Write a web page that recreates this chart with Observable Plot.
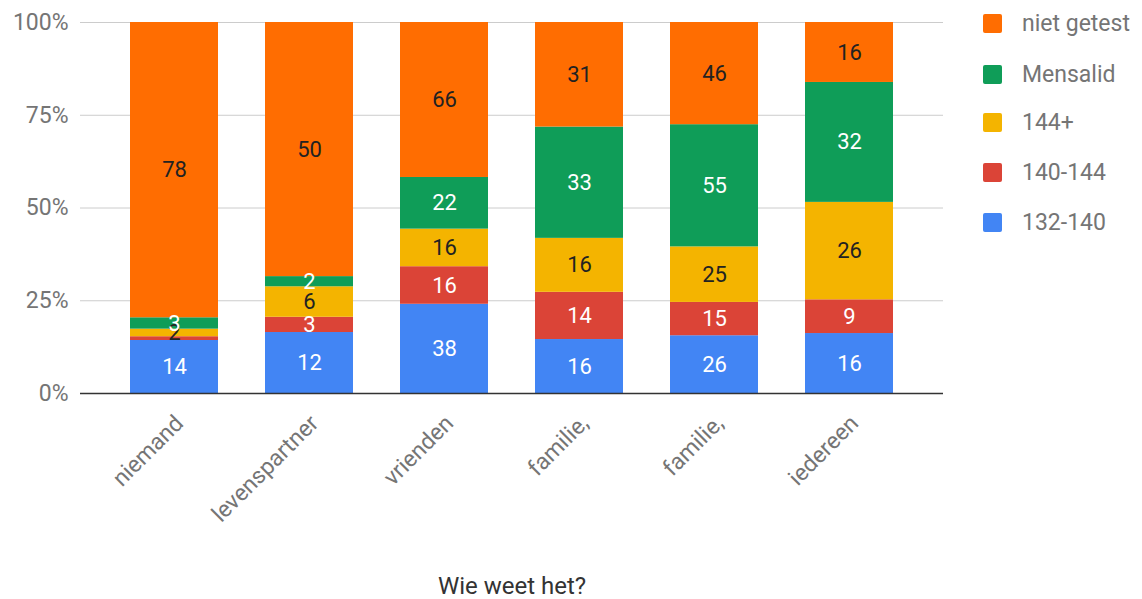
<!DOCTYPE html>
<html>
<head>
<meta charset="utf-8">
<script src="https://cdn.jsdelivr.net/npm/d3@7"></script>
<script src="https://cdn.jsdelivr.net/npm/@observablehq/plot@0.6"></script>
<style>
  html, body { margin: 0; padding: 0; background: #fff; }
  #wrap { position: relative; width: 1142px; height: 599px; font-family: Roboto, sans-serif; }
  #legend { position: absolute; left: 983px; top: 0; }
  .item { position: absolute; left: 0; display: flex; align-items: center; white-space: nowrap; }
  .sw { width: 19px; height: 19px; border-radius: 2px; margin-right: 20px; }
  .lab { font-size: 23px; color: #757575; }
</style>
</head>
<body>
<div id="wrap"><div id="legend"></div></div>
<script>
const categories = ["niemand", "levenspartner", "vrienden", "familie,", "familie,", "iedereen"];
const seriesNames = ["132-140", "140-144", "144+", "Mensalid", "niet getest"];
const seriesColors = ["#4285F4", "#DB4437", "#F4B400", "#0F9D58", "#FF6D01"];
const labelColors = ["#fff", "#fff", "#222", "#fff", "#222"];
const v132_140 = [14, 12, 38, 16, 26, 16];
const v140_144 = [1, 3, 16, 14, 15, 9];
const v144plus = [2, 6, 16, 16, 25, 26];
const vMensalid = [3, 2, 22, 33, 55, 32];
const vNietGetest = [78, 50, 66, 31, 46, 16];
const yTicks = [0, 0.25, 0.5, 0.75, 1];
const xTitle = "Wie weet het?";

const seriesValues = [v132_140, v140_144, v144plus, vMensalid, vNietGetest];
const data = [];
seriesNames.forEach((s, si) => {
  categories.forEach((c, ci) => {
    data.push({key: ci, series: s, value: seriesValues[si][ci], lc: labelColors[si]});
  });
});

const stackOpts = {offset: "normalize", order: seriesNames};

const chart = Plot.plot({
  width: 1142,
  height: 599,
  marginLeft: 80,
  marginRight: 199,
  marginTop: 22,
  marginBottom: 206,
  style: {fontFamily: "Roboto, sans-serif", fontSize: "23px", background: "#fff"},
  x: {type: "band", domain: categories.map((c, i) => i), padding: 0.35},
  y: {domain: [0, 1]},
  color: {domain: seriesNames, range: seriesColors},
  marks: [
    Plot.gridY(yTicks.slice(1), {stroke: "#cccccc", strokeOpacity: 1}),
    Plot.barY(data, Plot.stackY(stackOpts, {x: "key", y: "value", fill: "series"})),
    Plot.text(data, Plot.stackY(stackOpts, {
      x: "key", y: "value", text: d => (d.value > 1 ? String(d.value) : ""), fill: d => d.lc,
      fontSize: 22, fontFamily: "Roboto, sans-serif"
    })),
    Plot.ruleY([0], {stroke: "#333", strokeWidth: 1.5}),
    Plot.axisY({ticks: yTicks, tickFormat: d => Math.round(d * 100) + "%", tickSize: 0, tickPadding: 12, fill: "#757575", fontSize: 23, label: null}),
    Plot.axisX({tickFormat: i => categories[i], tickSize: 0, tickRotate: -45, tickPadding: 10, dx: 5, dy: 16, fill: "#757575", fontSize: 23, label: null}),
    Plot.text([xTitle], {frameAnchor: "bottom", dy: 200, text: d => d, fill: "#333", fontSize: 24, fontFamily: "Roboto, sans-serif"})
  ]
});
document.getElementById("wrap").prepend(chart);

const legend = document.getElementById("legend");
const order = [4, 3, 2, 1, 0];
const centers = [23, 74, 122, 172, 222];
order.forEach((si, k) => {
  const item = document.createElement("div");
  item.className = "item";
  item.style.top = (centers[k] - 14) + "px";
  item.style.height = "28px";
  const sw = document.createElement("div");
  sw.className = "sw";
  sw.style.background = seriesColors[si];
  const lab = document.createElement("span");
  lab.className = "lab";
  lab.textContent = seriesNames[si];
  item.appendChild(sw);
  item.appendChild(lab);
  legend.appendChild(item);
});
</script>
</body>
</html>
